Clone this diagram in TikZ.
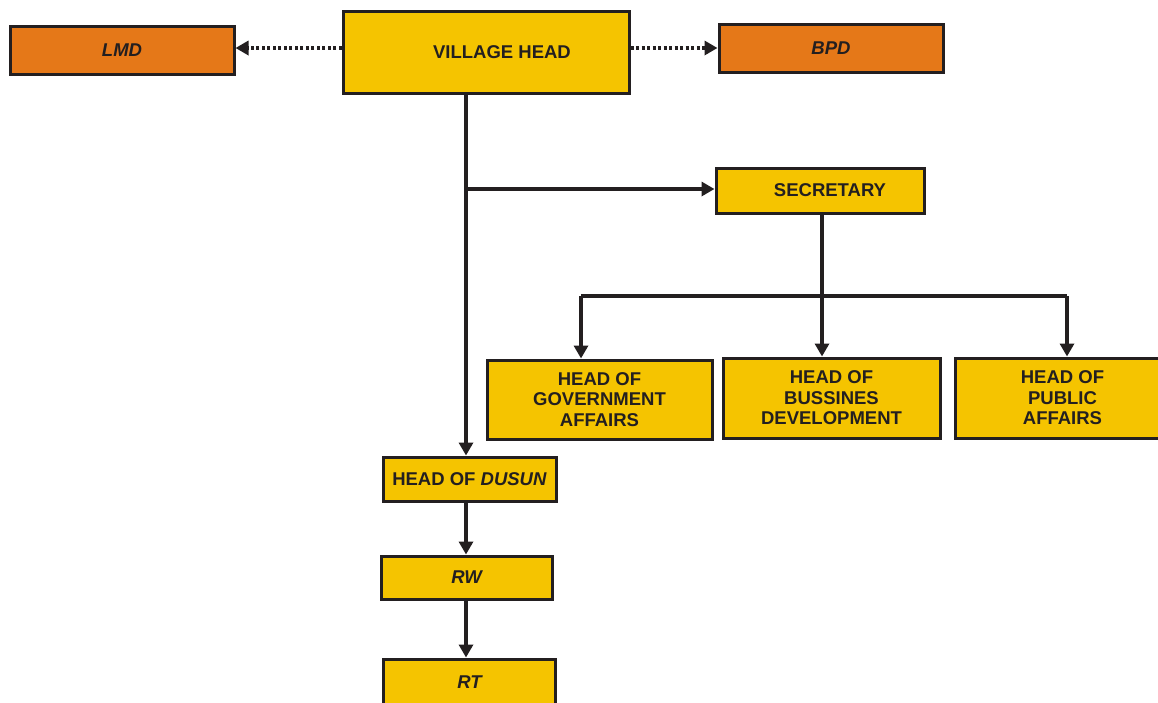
\documentclass[tikz,border=0pt]{standalone}
\usepackage{fontspec}
\setmainfont{Liberation Sans}
\usetikzlibrary{arrows.meta}
\definecolor{boxyellow}{HTML}{F5C400}
\definecolor{boxorange}{HTML}{E57818}
\definecolor{edge}{HTML}{231F20}
\tikzset{
  unit/.style={draw=edge, line width=3pt, fill=boxyellow, inner sep=0pt,
    font=\fontsize{18.5}{20.5}\selectfont\bfseries, text=edge, align=center},
  outer/.style={unit, fill=boxorange},
  arr/.style={draw=edge, line width=3.3pt, -{Triangle[length=13pt,width=14pt]}},
  dotarr/.style={arr, dash pattern=on 3pt off 2.5pt},
  plain/.style={draw=edge, line width=3.3pt}
}
\begin{document}
\begin{tikzpicture}[x=1pt,y=-1pt]
\useasboundingbox (0,0) rectangle (1158,702);
\fill[white] (0,0) rectangle (1158,702);
% nodes
\node[unit, minimum width=286pt, minimum height=82pt] (vh) at (486,52) {\hspace*{32pt}VILLAGE HEAD};
\node[outer, minimum width=224pt, minimum height=48pt] (lmd) at (122,50) {\itshape LMD};
\node[outer, minimum width=224pt, minimum height=48pt] (bpd) at (831,48) {\itshape BPD};
\node[unit, minimum width=208pt, minimum height=45pt] (sec) at (820,190.5) {\hspace*{20pt}SECRETARY};
\node[unit, minimum width=225pt, minimum height=79pt] (gov) at (599.5,399.5) {HEAD OF\\GOVERNMENT\\AFFAIRS};
\node[unit, minimum width=217pt, minimum height=80pt] (bus) at (831.5,398) {HEAD OF\\BUSSINES\\DEVELOPMENT};
\node[unit, minimum width=215pt, minimum height=80pt] (pub) at (1062.5,398) {HEAD OF\\PUBLIC\\AFFAIRS};
\node[unit, minimum width=173pt, minimum height=44pt] (dusun) at (469.5,479) {HEAD OF \textit{DUSUN}};
\node[unit, minimum width=171pt, minimum height=43pt] (rw) at (466.5,577.5) {\itshape RW};
\node[unit, minimum width=172pt, minimum height=46pt] (rt) at (469.5,682) {\itshape RT};
% helper coordinates
\coordinate (trunk) at (466,189);
\coordinate (barL) at (581,296);
\coordinate (barR) at (1067,296);
% connectors
\draw[dotarr] ([yshift=2pt]vh.west |- lmd.east) -- ([yshift=2pt]lmd.east);
\draw[dotarr] (vh.east |- bpd.west) -- (bpd.west);
\draw[arr] (vh.south -| trunk) -- (dusun.north -| trunk);
\draw[arr] (trunk) -- (sec.west |- trunk);
\draw[arr] ([xshift=2pt]sec.south) -- ([xshift=2pt]sec.south |- bus.north);
\draw[plain] (barL) -- (barR);
\draw[arr] (barL) -- (barL |- gov.north);
\draw[arr] (barR) -- (barR |- pub.north);
\draw[arr] (dusun.south -| trunk) -- (rw.north -| trunk);
\draw[arr] (rw.south -| trunk) -- (rt.north -| trunk);
\end{tikzpicture}
\end{document}
